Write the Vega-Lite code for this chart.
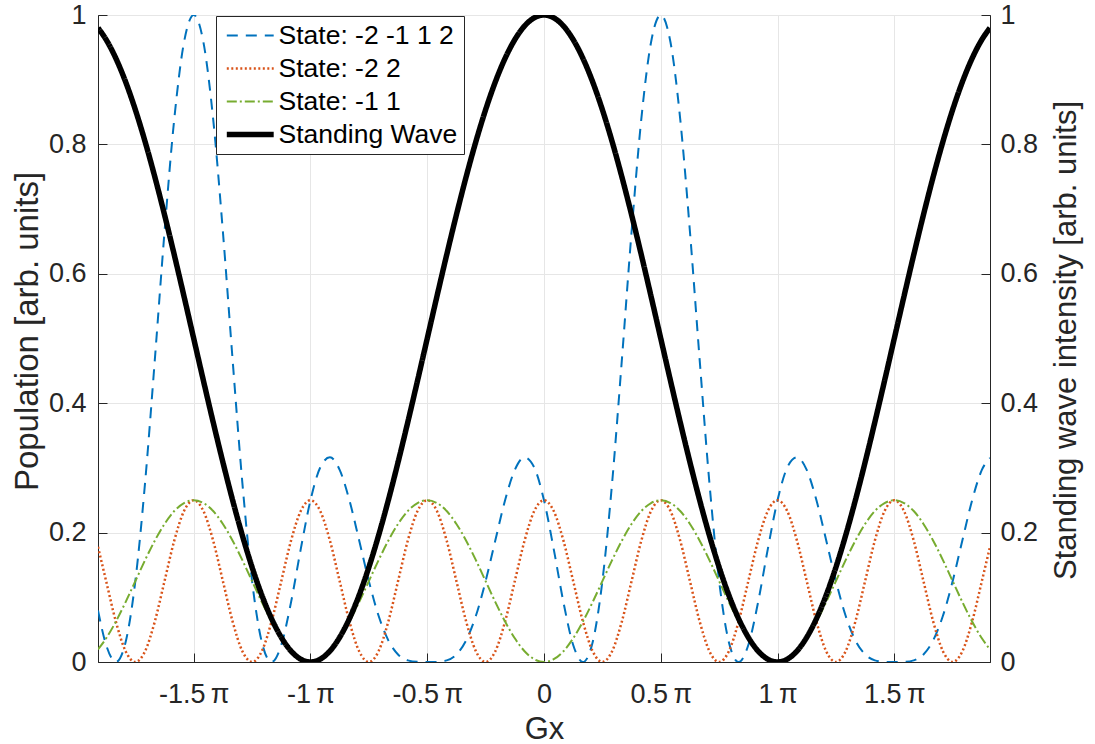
{
  "$schema": "https://vega.github.io/schema/vega-lite/v6.json",
  "width": 892,
  "height": 647,
  "autosize": {"type": "none"},
  "padding": {"left": 98, "top": 15, "right": 105, "bottom": 82},
  "background": "white",
  "config": {
    "font": "Liberation Sans",
    "view": {"stroke": "#262626", "strokeWidth": 1},
    "axis": {
      "labelFont": "Liberation Sans", "labelFontSize": 27, "labelColor": "#262626",
      "titleFont": "Liberation Sans", "titleFontSize": 31, "titleFontWeight": "normal", "titleColor": "#262626",
      "domainColor": "#262626", "tickColor": "#262626", "tickSize": -9, "tickWidth": 1,
      "gridColor": "#e6e6e6", "gridWidth": 1, "labelFlush": false, "labelOverlap": false
    },
    "legend": {
      "orient": "none", "legendX": 118, "legendY": 1,
      "strokeColor": "#262626", "fillColor": "white", "padding": 6,
      "labelFont": "Liberation Sans", "labelFontSize": 26.5, "labelColor": "#000000", "labelLimit": 500,
      "symbolSize": 2200, "symbolType": "stroke", "rowPadding": 6, "clipHeight": 27,
      "labelOffset": 15, "symbolOffset": 15
    }
  },
  "data": {"values": [
    {"x": -1.909859, "p": 0.0796, "q": 0.178, "r": 0.0195, "w": 0.9801},
    {"x": -1.875, "p": 0.0263, "q": 0.125, "r": 0.0366, "w": 0.9619},
    {"x": -1.833333, "p": 0, "q": 0.0625, "r": 0.0625, "w": 0.933},
    {"x": -1.791667, "p": 0.0306, "q": 0.0167, "r": 0.0926, "w": 0.8967},
    {"x": -1.75, "p": 0.125, "q": 0, "r": 0.125, "w": 0.8536},
    {"x": -1.708333, "p": 0.2768, "q": 0.0167, "r": 0.1574, "w": 0.8044},
    {"x": -1.666667, "p": 0.4665, "q": 0.0625, "r": 0.1875, "w": 0.75},
    {"x": -1.625, "p": 0.665, "q": 0.125, "r": 0.2134, "w": 0.6913},
    {"x": -1.583333, "p": 0.839, "q": 0.1875, "r": 0.2333, "w": 0.6294},
    {"x": -1.541667, "p": 0.9578, "q": 0.2333, "r": 0.2457, "w": 0.5653},
    {"x": -1.5, "p": 1, "q": 0.25, "r": 0.25, "w": 0.5},
    {"x": -1.458333, "p": 0.9578, "q": 0.2333, "r": 0.2457, "w": 0.4347},
    {"x": -1.416667, "p": 0.839, "q": 0.1875, "r": 0.2333, "w": 0.3706},
    {"x": -1.375, "p": 0.665, "q": 0.125, "r": 0.2134, "w": 0.3087},
    {"x": -1.333333, "p": 0.4665, "q": 0.0625, "r": 0.1875, "w": 0.25},
    {"x": -1.291667, "p": 0.2768, "q": 0.0167, "r": 0.1574, "w": 0.1956},
    {"x": -1.25, "p": 0.125, "q": 0, "r": 0.125, "w": 0.1464},
    {"x": -1.208333, "p": 0.0306, "q": 0.0167, "r": 0.0926, "w": 0.1033},
    {"x": -1.166667, "p": 0, "q": 0.0625, "r": 0.0625, "w": 0.067},
    {"x": -1.125, "p": 0.0263, "q": 0.125, "r": 0.0366, "w": 0.0381},
    {"x": -1.083333, "p": 0.0922, "q": 0.1875, "r": 0.0167, "w": 0.017},
    {"x": -1.041667, "p": 0.1745, "q": 0.2333, "r": 0.0043, "w": 0.0043},
    {"x": -1, "p": 0.25, "q": 0.25, "r": 0, "w": 0},
    {"x": -0.958333, "p": 0.3006, "q": 0.2333, "r": 0.0043, "w": 0.0043},
    {"x": -0.916667, "p": 0.3163, "q": 0.1875, "r": 0.0167, "w": 0.017},
    {"x": -0.875, "p": 0.2969, "q": 0.125, "r": 0.0366, "w": 0.0381},
    {"x": -0.833333, "p": 0.25, "q": 0.0625, "r": 0.0625, "w": 0.067},
    {"x": -0.791667, "p": 0.1882, "q": 0.0167, "r": 0.0926, "w": 0.1033},
    {"x": -0.75, "p": 0.125, "q": 0, "r": 0.125, "w": 0.1464},
    {"x": -0.708333, "p": 0.0714, "q": 0.0167, "r": 0.1574, "w": 0.1956},
    {"x": -0.666667, "p": 0.0335, "q": 0.0625, "r": 0.1875, "w": 0.25},
    {"x": -0.625, "p": 0.0117, "q": 0.125, "r": 0.2134, "w": 0.3087},
    {"x": -0.583333, "p": 0.0025, "q": 0.1875, "r": 0.2333, "w": 0.3706},
    {"x": -0.541667, "p": 0.0002, "q": 0.2333, "r": 0.2457, "w": 0.4347},
    {"x": -0.5, "p": 0, "q": 0.25, "r": 0.25, "w": 0.5},
    {"x": -0.458333, "p": 0.0002, "q": 0.2333, "r": 0.2457, "w": 0.5653},
    {"x": -0.416667, "p": 0.0025, "q": 0.1875, "r": 0.2333, "w": 0.6294},
    {"x": -0.375, "p": 0.0117, "q": 0.125, "r": 0.2134, "w": 0.6913},
    {"x": -0.333333, "p": 0.0335, "q": 0.0625, "r": 0.1875, "w": 0.75},
    {"x": -0.291667, "p": 0.0714, "q": 0.0167, "r": 0.1574, "w": 0.8044},
    {"x": -0.25, "p": 0.125, "q": 0, "r": 0.125, "w": 0.8536},
    {"x": -0.208333, "p": 0.1882, "q": 0.0167, "r": 0.0926, "w": 0.8967},
    {"x": -0.166667, "p": 0.25, "q": 0.0625, "r": 0.0625, "w": 0.933},
    {"x": -0.125, "p": 0.2969, "q": 0.125, "r": 0.0366, "w": 0.9619},
    {"x": -0.083333, "p": 0.3163, "q": 0.1875, "r": 0.0167, "w": 0.983},
    {"x": -0.041667, "p": 0.3006, "q": 0.2333, "r": 0.0043, "w": 0.9957},
    {"x": 0, "p": 0.25, "q": 0.25, "r": 0, "w": 1},
    {"x": 0.041667, "p": 0.1745, "q": 0.2333, "r": 0.0043, "w": 0.9957},
    {"x": 0.083333, "p": 0.0922, "q": 0.1875, "r": 0.0167, "w": 0.983},
    {"x": 0.125, "p": 0.0263, "q": 0.125, "r": 0.0366, "w": 0.9619},
    {"x": 0.166667, "p": 0, "q": 0.0625, "r": 0.0625, "w": 0.933},
    {"x": 0.208333, "p": 0.0306, "q": 0.0167, "r": 0.0926, "w": 0.8967},
    {"x": 0.25, "p": 0.125, "q": 0, "r": 0.125, "w": 0.8536},
    {"x": 0.291667, "p": 0.2768, "q": 0.0167, "r": 0.1574, "w": 0.8044},
    {"x": 0.333333, "p": 0.4665, "q": 0.0625, "r": 0.1875, "w": 0.75},
    {"x": 0.375, "p": 0.665, "q": 0.125, "r": 0.2134, "w": 0.6913},
    {"x": 0.416667, "p": 0.839, "q": 0.1875, "r": 0.2333, "w": 0.6294},
    {"x": 0.458333, "p": 0.9578, "q": 0.2333, "r": 0.2457, "w": 0.5653},
    {"x": 0.5, "p": 1, "q": 0.25, "r": 0.25, "w": 0.5},
    {"x": 0.541667, "p": 0.9578, "q": 0.2333, "r": 0.2457, "w": 0.4347},
    {"x": 0.583333, "p": 0.839, "q": 0.1875, "r": 0.2333, "w": 0.3706},
    {"x": 0.625, "p": 0.665, "q": 0.125, "r": 0.2134, "w": 0.3087},
    {"x": 0.666667, "p": 0.4665, "q": 0.0625, "r": 0.1875, "w": 0.25},
    {"x": 0.708333, "p": 0.2768, "q": 0.0167, "r": 0.1574, "w": 0.1956},
    {"x": 0.75, "p": 0.125, "q": 0, "r": 0.125, "w": 0.1464},
    {"x": 0.791667, "p": 0.0306, "q": 0.0167, "r": 0.0926, "w": 0.1033},
    {"x": 0.833333, "p": 0, "q": 0.0625, "r": 0.0625, "w": 0.067},
    {"x": 0.875, "p": 0.0263, "q": 0.125, "r": 0.0366, "w": 0.0381},
    {"x": 0.916667, "p": 0.0922, "q": 0.1875, "r": 0.0167, "w": 0.017},
    {"x": 0.958333, "p": 0.1745, "q": 0.2333, "r": 0.0043, "w": 0.0043},
    {"x": 1, "p": 0.25, "q": 0.25, "r": 0, "w": 0},
    {"x": 1.041667, "p": 0.3006, "q": 0.2333, "r": 0.0043, "w": 0.0043},
    {"x": 1.083333, "p": 0.3163, "q": 0.1875, "r": 0.0167, "w": 0.017},
    {"x": 1.125, "p": 0.2969, "q": 0.125, "r": 0.0366, "w": 0.0381},
    {"x": 1.166667, "p": 0.25, "q": 0.0625, "r": 0.0625, "w": 0.067},
    {"x": 1.208333, "p": 0.1882, "q": 0.0167, "r": 0.0926, "w": 0.1033},
    {"x": 1.25, "p": 0.125, "q": 0, "r": 0.125, "w": 0.1464},
    {"x": 1.291667, "p": 0.0714, "q": 0.0167, "r": 0.1574, "w": 0.1956},
    {"x": 1.333333, "p": 0.0335, "q": 0.0625, "r": 0.1875, "w": 0.25},
    {"x": 1.375, "p": 0.0117, "q": 0.125, "r": 0.2134, "w": 0.3087},
    {"x": 1.416667, "p": 0.0025, "q": 0.1875, "r": 0.2333, "w": 0.3706},
    {"x": 1.458333, "p": 0.0002, "q": 0.2333, "r": 0.2457, "w": 0.4347},
    {"x": 1.5, "p": 0, "q": 0.25, "r": 0.25, "w": 0.5},
    {"x": 1.541667, "p": 0.0002, "q": 0.2333, "r": 0.2457, "w": 0.5653},
    {"x": 1.583333, "p": 0.0025, "q": 0.1875, "r": 0.2333, "w": 0.6294},
    {"x": 1.625, "p": 0.0117, "q": 0.125, "r": 0.2134, "w": 0.6913},
    {"x": 1.666667, "p": 0.0335, "q": 0.0625, "r": 0.1875, "w": 0.75},
    {"x": 1.708333, "p": 0.0714, "q": 0.0167, "r": 0.1574, "w": 0.8044},
    {"x": 1.75, "p": 0.125, "q": 0, "r": 0.125, "w": 0.8536},
    {"x": 1.791667, "p": 0.1882, "q": 0.0167, "r": 0.0926, "w": 0.8967},
    {"x": 1.833333, "p": 0.25, "q": 0.0625, "r": 0.0625, "w": 0.933},
    {"x": 1.875, "p": 0.2969, "q": 0.125, "r": 0.0366, "w": 0.9619},
    {"x": 1.909859, "p": 0.3154, "q": 0.178, "r": 0.0195, "w": 0.9801}
  ]},
  "encoding": {
    "x": {
      "field": "x", "type": "quantitative",
      "scale": {"domain": [-1.909859, 1.909859], "nice": false, "zero": false},
      "axis": {
        "title": "Gx", "values": [-1.5, -1, -0.5, 0, 0.5, 1, 1.5],
        "labelExpr": "datum.value == 0 ? '0' : datum.value + '\u2009π'",
        "grid": true, "labelBaseline": "alphabetic", "labelPadding": 49,
        "titleX": 446, "titleY": 76, "titleBaseline": "alphabetic", "titleAlign": "center"
      }
    },
    "color": {
      "field": "series", "type": "nominal",
      "scale": {"domain": ["p", "q", "r", "w"], "range": ["#0072BD", "#D95319", "#77AC30", "#000000"]},
      "legend": {
        "title": null, "labelFontSize": 26.5, "labelLimit": 500,
        "labelExpr": "datum.label == 'p' ? 'State: -2 -1 1 2\u2002' : datum.label == 'q' ? 'State: -2 2' : datum.label == 'r' ? 'State: -1 1' : 'Standing Wave'",
        "encode": {"symbols": {"update": {"strokeWidth": {"signal": "datum.value === 'w' ? 5.5 : datum.value === 'q' ? 2.5 : 2"}}}}
      }
    },
    "strokeDash": {
      "field": "series", "type": "nominal",
      "scale": {"domain": ["p", "q", "r", "w"], "range": [[11, 8], [2, 2.5], [10, 3, 2, 3], [1, 0]]},
      "legend": {
        "title": null, "labelFontSize": 26.5, "labelLimit": 500,
        "labelExpr": "datum.label == 'p' ? 'State: -2 -1 1 2\u2002' : datum.label == 'q' ? 'State: -2 2' : datum.label == 'r' ? 'State: -1 1' : 'Standing Wave'",
        "encode": {"symbols": {"update": {"strokeWidth": {"signal": "datum.value === 'w' ? 5.5 : datum.value === 'q' ? 2.5 : 2"}}}}
      }
    }
  },
  "layer": [
    {
      "encoding": {
        "y": {
          "field": "val", "type": "quantitative",
          "scale": {"domain": [0, 1], "nice": false},
          "axis": {
            "orient": "left", "title": "Population [arb. units]", "titleFontSize": 33,
            "values": [0, 0.2, 0.4, 0.6, 0.8, 1], "format": "~g", "grid": true,
            "labelPadding": 21, "titleAngle": -90, "titleX": -71, "titleY": 316,
            "titleBaseline": "middle", "titleAlign": "center"
          }
        }
      },
      "layer": [
        {
          "transform": [{"fold": ["p"], "as": ["series", "val"]}],
          "mark": {"type": "line", "interpolate": "monotone", "clip": true, "strokeWidth": 2}
        },
        {
          "transform": [{"fold": ["q"], "as": ["series", "val"]}],
          "mark": {"type": "line", "interpolate": "monotone", "clip": true, "strokeWidth": 2.5}
        },
        {
          "transform": [{"fold": ["r"], "as": ["series", "val"]}],
          "mark": {"type": "line", "interpolate": "monotone", "clip": true, "strokeWidth": 2}
        }
      ]
    },
    {
      "transform": [{"fold": ["w"], "as": ["series", "val"]}],
      "mark": {"type": "line", "interpolate": "monotone", "clip": true, "strokeWidth": 5.5},
      "encoding": {
        "y": {
          "field": "val", "type": "quantitative",
          "scale": {"domain": [0, 1], "nice": false},
          "axis": {
            "orient": "right", "title": "Standing wave intensity [arb. units]",
            "values": [0, 0.2, 0.4, 0.6, 0.8, 1], "format": "~g", "grid": false,
            "labelPadding": 19, "titleAngle": -90, "titleX": 76, "titleY": 325,
            "titleBaseline": "middle", "titleAlign": "center"
          }
        }
      }
    }
  ],
  "resolve": {"scale": {"y": "independent"}}
}
